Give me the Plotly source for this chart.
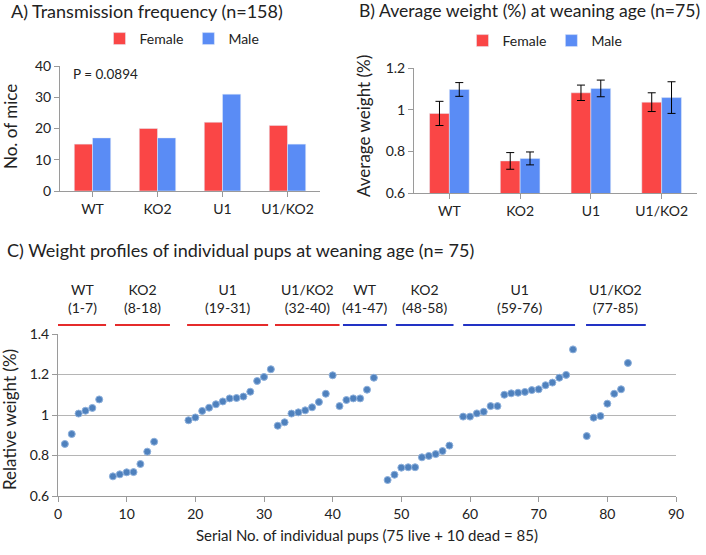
import plotly.graph_objects as go

# ---- Data ----
genotypes = ["WT", "KO2", "U1", "U1/KO2"]
trans_female = [15, 20, 22, 21]
trans_male = [17, 17, 31, 15]

wt_female = [0.982, 0.754, 1.081, 1.036]
wt_female_err = [0.058, 0.040, 0.037, 0.045]
wt_male = [1.097, 0.766, 1.102, 1.058]
wt_male_err = [0.033, 0.031, 0.040, 0.076]

pup_serial = [1, 2, 3, 4, 5, 6,
              8, 9, 10, 11, 12, 13, 14,
              19, 20, 21, 22, 23, 24, 25, 26, 27, 28, 29, 30, 31,
              32, 33, 34, 35, 36, 37, 38, 39, 40,
              41, 42, 43, 44, 45, 46,
              48, 49, 50, 51, 52, 53, 54, 55, 56, 57,
              59, 60, 61, 62, 63, 64, 65, 66, 67, 68, 69, 70, 71, 72, 73, 74, 75,
              77, 78, 79, 80, 81, 82, 83]
pup_weight = [0.857, 0.906, 1.007, 1.021, 1.035, 1.077,
              0.697, 0.707, 0.717, 0.718, 0.758, 0.819, 0.868,
              0.974, 0.988, 1.020, 1.036, 1.053, 1.067, 1.082, 1.084, 1.091, 1.115, 1.168, 1.188, 1.226,
              0.947, 0.964, 1.007, 1.013, 1.023, 1.038, 1.064, 1.105, 1.196,
              1.044, 1.074, 1.082, 1.082, 1.125, 1.184,
              0.679, 0.705, 0.740, 0.742, 0.742, 0.791, 0.798, 0.807, 0.822, 0.849,
              0.992, 0.992, 1.008, 1.016, 1.044, 1.044, 1.100, 1.107, 1.110, 1.114, 1.123, 1.127, 1.147, 1.160, 1.184, 1.198, 1.324,
              0.896, 0.987, 0.995, 1.056, 1.105, 1.127, 1.257]

group_names = ["WT", "KO2", "U1", "U1/KO2", "WT", "KO2", "U1", "U1/KO2"]
group_ranges = ["(1-7)", "(8-18)", "(19-31)", "(32-40)", "(41-47)", "(48-58)", "(59-76)", "(77-85)"]

# ---- Styles / layout positions ----
RED = "#FA4646"
BLUE = "#5A8CF5"
LINE_RED = "#E52B2B"
LINE_BLUE = "#2233C4"
group_colors = [LINE_RED] * 4 + [LINE_BLUE] * 4
group_spans = [(0.0, 7.0), (8.3, 16.3), (18.8, 30.6), (31.6, 41.0),
               (41.5, 47.9), (49.2, 57.6), (59.0, 75.3), (76.9, 85.6)]

FONT = "Lato"
TXT = "#222222"
AX = "#9a9a9a"

W, H = 706, 555


def px(x):
    return x / W


def py(y):
    return 1 - y / H


fig = go.Figure()

# Panel A
fig.add_trace(go.Bar(x=genotypes, y=trans_female, name="Female", marker_color=RED,
                     xaxis="x", yaxis="y", legend="legend"))
fig.add_trace(go.Bar(x=genotypes, y=trans_male, name="Male", marker_color=BLUE,
                     xaxis="x", yaxis="y", legend="legend"))

# Panel B
fig.add_trace(go.Bar(x=genotypes, y=wt_female, name="Female", marker_color=RED,
                     error_y=dict(type="data", array=wt_female_err, color="black", thickness=1, width=4),
                     xaxis="x2", yaxis="y2", legend="legend2"))
fig.add_trace(go.Bar(x=genotypes, y=wt_male, name="Male", marker_color=BLUE,
                     error_y=dict(type="data", array=wt_male_err, color="black", thickness=1, width=4),
                     xaxis="x2", yaxis="y2", legend="legend2"))

# Panel C
fig.add_trace(go.Scatter(x=pup_serial, y=pup_weight, mode="markers",
                         marker=dict(size=7, color="#4F81BD", line=dict(color="#8DB0DC", width=1)),
                         showlegend=False, xaxis="x3", yaxis="y3"))

axis_common = dict(showline=True, linecolor=AX, linewidth=1, ticks="outside", tickcolor=AX,
                   ticklen=5, tickfont=dict(size=14, color=TXT, family=FONT), showgrid=False,
                   zeroline=False, automargin=False)

shapes = []
annotations = []

# group labels & lines for panel C
for name, rng, col, (x0, x1) in zip(group_names, group_ranges, group_colors, group_spans):
    shapes.append(dict(type="line", xref="x3", yref="paper", x0=x0, x1=x1,
                       y0=py(325), y1=py(325), line=dict(color=col, width=2)))
    annotations.append(dict(xref="x3", yref="paper", x=(x0 + x1) / 2, y=py(318),
                            text=f"{name}<br>{rng}", showarrow=False, yanchor="bottom",
                            font=dict(size=14, color=TXT, family=FONT)))


def ytitle(text, x, y):
    return dict(xref="paper", yref="paper", x=px(x), y=py(y), xanchor="center", yanchor="middle",
                text=text, textangle=-90, showarrow=False,
                font=dict(size=17, color=TXT, family=FONT))


annotations += [
    dict(xref="paper", yref="paper", x=px(9), y=py(-2), xanchor="left", yanchor="top",
         text="A) Transmission frequency (n=158)", showarrow=False,
         font=dict(size=18, color=TXT, family=FONT)),
    dict(xref="paper", yref="paper", x=px(357), y=py(-2), xanchor="left", yanchor="top",
         text="B) Average weight (%) at weaning age (n=75)", showarrow=False,
         font=dict(size=17.6, color=TXT, family=FONT)),
    dict(xref="paper", yref="paper", x=px(5), y=py(237), xanchor="left", yanchor="top",
         text="C) Weight profiles of individual pups at weaning age (n= 75)", showarrow=False,
         font=dict(size=18, color=TXT, family=FONT)),
    dict(xref="paper", yref="paper", x=px(71), y=py(64), xanchor="left", yanchor="top",
         text="P = 0.0894", showarrow=False, font=dict(size=13.5, color=TXT, family=FONT)),
    ytitle("No. of mice", 10, 127),
    ytitle("Average weight (%)", 363, 126),
    ytitle("Relative weight (%)", 9, 420),
]

fig.update_layout(
    width=W, height=H, margin=dict(l=0, r=0, t=0, b=0),
    paper_bgcolor="white", plot_bgcolor="white",
    font=dict(family=FONT, color=TXT),
    barmode="group", bargap=0.44, bargroupgap=0,
    xaxis=dict(domain=[px(60), px(320)], anchor="y", **axis_common),
    yaxis=dict(domain=[py(191), py(66)], anchor="x", range=[0, 40], dtick=10, **axis_common),
    xaxis2=dict(domain=[px(414), px(697)], anchor="y2", **axis_common),
    yaxis2=dict(domain=[py(193), py(68)], anchor="x2", range=[0.6, 1.2], dtick=0.2, **axis_common),
    xaxis3=dict(domain=[px(58), px(676)], anchor="y3", range=[0, 90], dtick=10,
                title=dict(text="Serial No. of individual pups (75 live + 10 dead = 85)",
                           font=dict(size=15, color=TXT, family=FONT), standoff=9),
                **axis_common),
    yaxis3=dict(domain=[py(496), py(334)], anchor="x3", range=[0.6, 1.4], dtick=0.2,
                **{**axis_common, "showgrid": True, "gridcolor": "#b5b5b5"}),
    legend=dict(orientation="h", x=px(182), y=py(39), xanchor="center", yanchor="middle",
                font=dict(size=14, color=TXT, family=FONT), itemwidth=30, bgcolor="rgba(0,0,0,0)"),
    legend2=dict(orientation="h", x=px(545), y=py(41), xanchor="center", yanchor="middle",
                 font=dict(size=14, color=TXT, family=FONT), itemwidth=30, bgcolor="rgba(0,0,0,0)"),
    shapes=shapes,
    annotations=annotations,
)

fig.write_html("out.html", config={"displayModeBar": False},
               post_script="document.body.style.margin='0';document.body.style.overflow='hidden';")
